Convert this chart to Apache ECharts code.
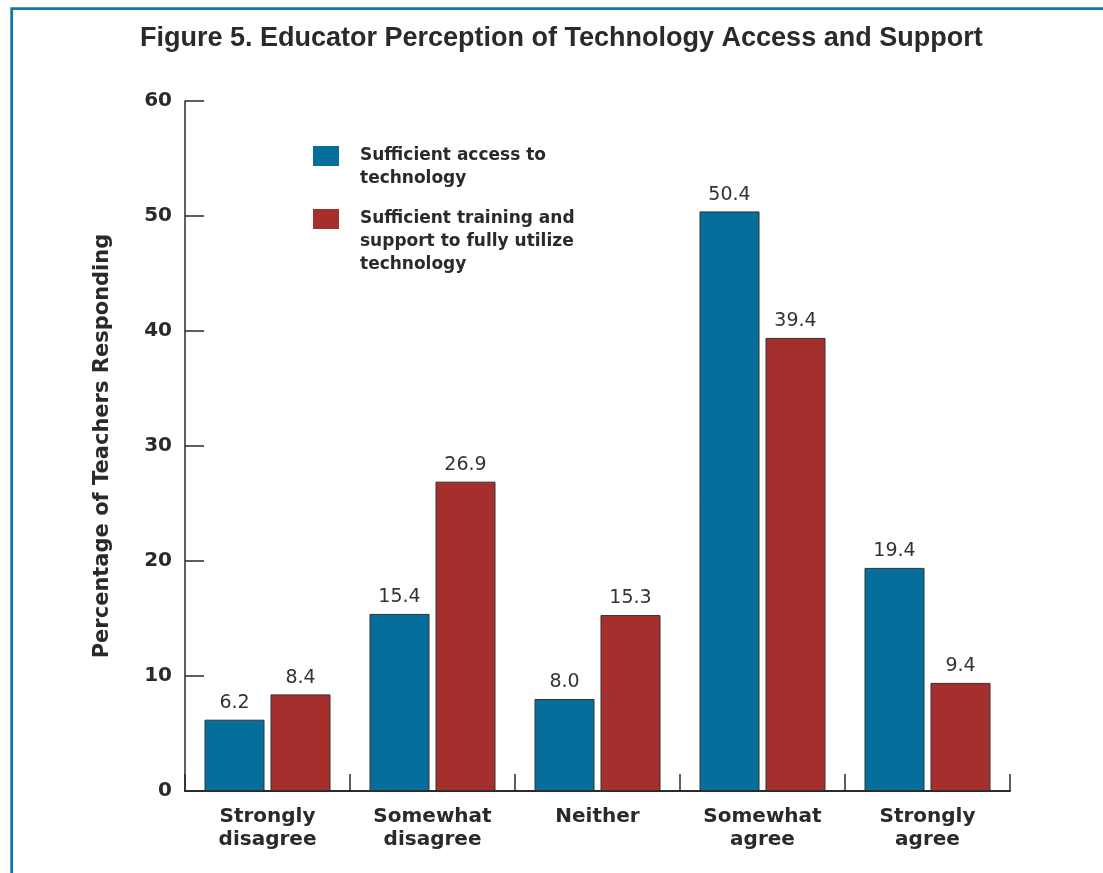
<!DOCTYPE html>
<html>
<head>
<meta charset="utf-8">
<script src="https://cdn.jsdelivr.net/npm/echarts@6/dist/echarts.min.js"></script>
<style>
html,body{margin:0;padding:0;background:#fff;}
#chart{width:1103px;height:873px;}
</style>
</head>
<body>
<div id="chart"></div>
<script>
const titleText = 'Figure 5. Educator Perception of Technology Access and Support';
const yAxisName = 'Percentage of Teachers Responding';
const categories = ['Strongly\ndisagree', 'Somewhat\ndisagree', 'Neither', 'Somewhat\nagree', 'Strongly\nagree'];
const seriesNames = ['Sufficient access to technology', 'Sufficient training and support to fully utilize technology'];
const legendLines = [
  ['Sufficient access to', 'technology'],
  ['Sufficient training and', 'support to fully utilize', 'technology']
];
const accessValues = [6.2, 15.4, 8.0, 50.4, 19.4];
const trainingValues = [8.4, 26.9, 15.3, 39.4, 9.4];
const yTicks = { min: 0, max: 60, interval: 10 };

const BLUE = '#066e9b';
const RED = '#a42f2c';
const DARK = '#2a2a2a';
const BOLD = 'DejaVu Sans';

const chart = echarts.init(document.getElementById('chart'), null, { renderer: 'canvas' });

// The icon sits at the centre of the text block; padding the block with blank
// lines above puts it level with the first line.
function legendFor(i, top) {
  const lines = legendLines[i];
  const blanks = new Array(lines.length - 1).fill(' ');
  const text = blanks.concat(lines).join('\n');
  return {
    left: 313,
    top: top,
    padding: 0,
    orient: 'vertical',
    icon: 'rect',
    itemWidth: 26,
    itemHeight: 20,
    selectedMode: false,
    itemStyle: { borderWidth: 0 },
    data: [seriesNames[i]],
    formatter: function () { return text; },
    textStyle: {
      fontFamily: BOLD,
      fontWeight: 'bold',
      fontSize: 17,
      lineHeight: 23,
      color: DARK,
      padding: [0, 0, 0, 16]
    }
  };
}

const option = {
  backgroundColor: '#fff',
  animation: false,
  title: {
    text: titleText,
    left: 135,
    top: 20,
    textStyle: { fontFamily: 'Liberation Sans', fontWeight: 'bold', fontSize: 27, color: DARK }
  },
  graphic: [{
    type: 'rect',
    shape: { x: 11.7, y: 8.7, width: 1300, height: 1000 },
    style: { fill: 'none', stroke: '#0f78a6', lineWidth: 2.8 },
    silent: true
  }],
  legend: [
    legendFor(0, 121.5),
    legendFor(1, 161.5)
  ],
  grid: { left: 185, right: 93, top: 101, bottom: 82, containLabel: false },
  xAxis: {
    type: 'category',
    data: categories,
    axisLine: { lineStyle: { color: DARK, width: 2 } },
    axisTick: { show: true, inside: true, length: 17, alignWithLabel: false, lineStyle: { color: DARK, width: 1.5 } },
    axisLabel: {
      margin: 14,
      fontFamily: BOLD, fontWeight: 'bold', fontSize: 20, lineHeight: 23, color: DARK
    },
    splitLine: { show: false }
  },
  yAxis: {
    type: 'value',
    min: yTicks.min, max: yTicks.max, interval: yTicks.interval,
    name: yAxisName,
    nameLocation: 'middle',
    nameRotate: 90,
    nameGap: 72,
    nameTextStyle: { fontFamily: BOLD, fontWeight: 'bold', fontSize: 21, color: DARK },
    axisLine: { show: true, lineStyle: { color: DARK, width: 1.5 } },
    axisTick: { show: true, inside: true, length: 19, lineStyle: { color: DARK, width: 1.5 } },
    axisLabel: { margin: 13, fontFamily: BOLD, fontWeight: 'bold', fontSize: 20, color: DARK },
    splitLine: { show: false }
  },
  series: [
    {
      name: seriesNames[0],
      type: 'bar',
      data: accessValues,
      barWidth: 60,
      barGap: '10%',
      itemStyle: { color: BLUE, borderColor: '#333', borderWidth: 1 },
      label: {
        show: true, position: 'top', distance: 7,
        formatter: p => p.value.toFixed(1),
        fontFamily: 'DejaVu Sans', fontSize: 19, color: '#333'
      }
    },
    {
      name: seriesNames[1],
      type: 'bar',
      data: trainingValues,
      barWidth: 60,
      barGap: '10%',
      itemStyle: { color: RED, borderColor: '#333', borderWidth: 1 },
      label: {
        show: true, position: 'top', distance: 7,
        formatter: p => p.value.toFixed(1),
        fontFamily: 'DejaVu Sans', fontSize: 19, color: '#333'
      }
    }
  ]
};
chart.setOption(option);
</script>
</body>
</html>
